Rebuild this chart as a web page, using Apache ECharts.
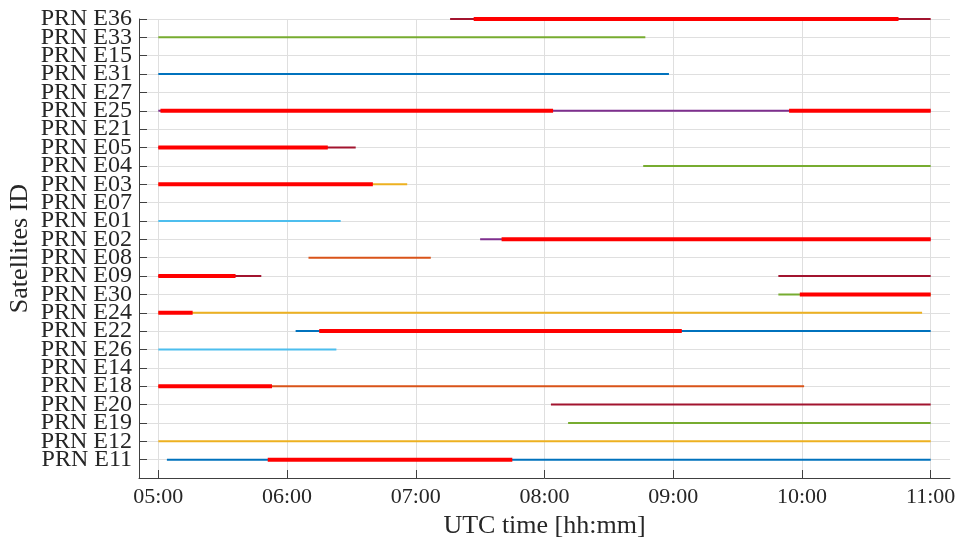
<!DOCTYPE html>
<html>
<head>
<meta charset="utf-8">
<script src="https://cdn.jsdelivr.net/npm/echarts@6/dist/echarts.min.js"></script>
<style>html,body{margin:0;padding:0;background:#fff}#c{width:959px;height:541px}</style>
</head>
<body>
<div id="c"></div>
<script>
// Satellites, bottom to top
const satellites = ['PRN E11','PRN E12','PRN E19','PRN E20','PRN E18','PRN E14','PRN E26','PRN E22','PRN E24','PRN E30','PRN E09','PRN E08','PRN E02','PRN E01','PRN E07','PRN E03','PRN E04','PRN E05','PRN E21','PRN E25','PRN E27','PRN E31','PRN E15','PRN E33','PRN E36'];
// Colour of each satellite's visibility line
const lineColors = ['#0072BD','#EDB120','#77AC30','#A2142F','#D95319','#0072BD','#4DBEEE','#0072BD','#EDB120','#77AC30','#A2142F','#D95319','#7E2F8E','#4DBEEE','#0072BD','#EDB120','#77AC30','#A2142F','#0072BD','#7E2F8E','#0072BD','#0072BD','#0072BD','#77AC30','#A2142F'];
// Visibility intervals (thin lines)
const visibleSegments = [
  [['05:04','11:00']],
  [['05:00','11:00']],
  [['08:11','11:00']],
  [['08:03','11:00']],
  [['05:00','10:01']],
  [],
  [['05:00','06:23']],
  [['06:04','11:00']],
  [['05:00','10:56']],
  [['09:49','11:00']],
  [['05:00','05:48'],['09:49','11:00']],
  [['06:10','07:07']],
  [['07:30','11:00']],
  [['05:00','06:25']],
  [],
  [['05:00','06:56']],
  [['08:46','11:00']],
  [['05:00','06:32']],
  [],
  [['05:00','11:00']],
  [],
  [['05:00','08:58']],
  [],
  [['05:00','08:47']],
  [['07:16','11:00']]
];
// Highlighted intervals (thick red)
const redSegments = [
  [['05:51','07:45']],
  [],
  [],
  [],
  [['05:00','05:53']],
  [],
  [],
  [['06:15','09:04']],
  [['05:00','05:16']],
  [['09:59','11:00']],
  [['05:00','05:36']],
  [],
  [['07:40','11:00']],
  [],
  [],
  [['05:00','06:40']],
  [],
  [['05:00','06:19']],
  [],
  [['05:01','08:04'],['09:54','11:00']],
  [],
  [],
  [],
  [],
  [['07:27','10:45']]
];
const xTickLabels = ['05:00','06:00','07:00','08:00','09:00','10:00','11:00'];

function toMin(s){const p=s.split(':');return (+p[0])*60+(+p[1]);}
function fmt(m){const h=Math.floor(m/60),mm=m%60;return (h<10?'0':'')+h+':'+(mm<10?'0':'')+mm;}

const yCats = [''].concat(satellites);
const series = [];
visibleSegments.forEach((segs,i)=>{
  segs.forEach(sg=>{
    series.push({type:'line',data:[[toMin(sg[0]),i+1],[toMin(sg[1]),i+1]],showSymbol:false,symbol:'none',silent:true,z:3,
      lineStyle:{color:lineColors[i],width:2,cap:'butt'}});
  });
});
redSegments.forEach((segs,i)=>{
  segs.forEach(sg=>{
    series.push({type:'line',data:[[toMin(sg[0]),i+1],[toMin(sg[1]),i+1]],showSymbol:false,symbol:'none',silent:true,z:4,
      lineStyle:{color:'#ff0000',width:4,cap:'butt'}});
  });
});

const font = 'Liberation Serif';
const txt = '#262626';
const xTicks = xTickLabels.map(toMin);

const chart = echarts.init(document.getElementById('c'),null,{renderer:'canvas'});
chart.setOption({
  animation:false,
  backgroundColor:'#fff',
  grid:{left:139,right:9,top:19,bottom:63,containLabel:false,outerBoundsMode:'none'},
  xAxis:{type:'value',min:291,max:669,
    name:'UTC time [hh:mm]',nameLocation:'middle',nameGap:30,
    nameTextStyle:{fontFamily:font,fontSize:26,color:txt},
    axisLine:{show:true,onZero:false,lineStyle:{color:'#404040',width:1}},
    axisTick:{show:true,inside:true,length:8,customValues:xTicks,lineStyle:{color:'#404040'}},
    axisLabel:{customValues:xTicks,formatter:v=>fmt(v),fontFamily:font,fontSize:22,color:txt,margin:8},
    splitLine:{show:true,lineStyle:{color:'#dfdfdf',width:1}}
  },
  yAxis:{type:'category',data:yCats,boundaryGap:false,
    name:'Satellites ID',nameLocation:'middle',nameGap:106,nameMoveOverlap:false,
    nameTextStyle:{fontFamily:font,fontSize:26,color:txt},
    axisLine:{show:true,onZero:false,lineStyle:{color:'#404040',width:1}},
    axisTick:{show:true,inside:true,length:8,interval:0,alignWithLabel:true,lineStyle:{color:'#404040'}},
    axisLabel:{interval:0,showMinLabel:true,showMaxLabel:true,hideOverlap:false,fontFamily:font,fontSize:24,color:txt,margin:7},
    splitLine:{show:true,interval:0,lineStyle:{color:'#dfdfdf',width:1}}
  },
  series:series
});
</script>
</body>
</html>
